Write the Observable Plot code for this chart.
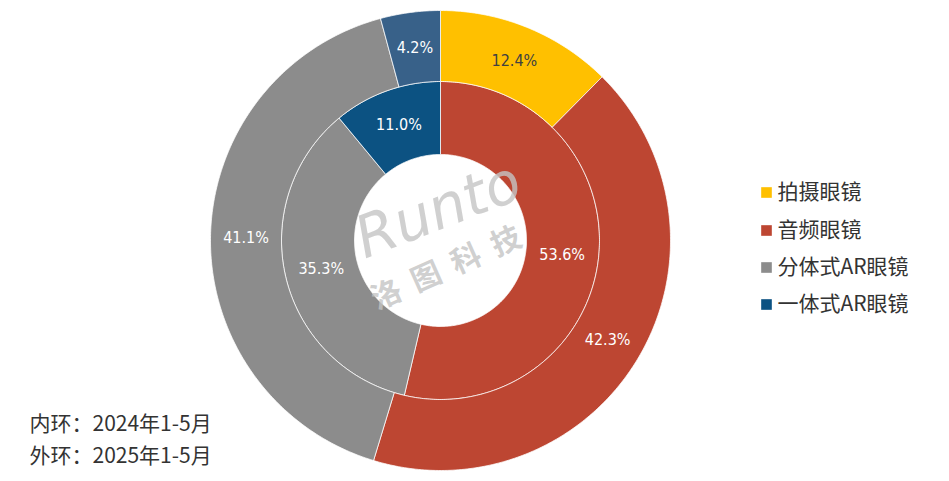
<!DOCTYPE html>
<html>
<head>
<meta charset="utf-8">
<script src="https://cdn.jsdelivr.net/npm/d3@7"></script>
<script src="https://cdn.jsdelivr.net/npm/@observablehq/plot@0.6"></script>
<style>
  html, body { margin: 0; padding: 0; background: #fff; }
  #chart { width: 949px; height: 481px; }
</style>
</head>
<body>
<div id="chart"></div>
<script>
// ---- data ----
const categories = ["拍摄眼镜", "音频眼镜", "分体式AR眼镜", "一体式AR眼镜"];
const inner2024 = [0, 53.6, 35.3, 11.0];   // 内环：2024年1-5月
const outer2025 = [12.4, 42.3, 41.1, 4.2]; // 外环：2025年1-5月
const ringNotes = ["内环：2024年1-5月", "外环：2025年1-5月"];

// ---- style ----
const innerColors = ["#FFC000", "#BD4632", "#8C8C8C", "#0C5282"];
const outerColors = ["#FFC000", "#BD4632", "#8C8C8C", "#386189"];
const legendColors = ["#FFC000", "#BD4632", "#8C8C8C", "#0C5282"];
const R = {hole: 86, mid: 159, outer: 230};

function ringSlices(values, colors, r0, r1, ring) {
  const total = d3.sum(values);
  let acc = 0;
  const polys = [], labels = [];
  values.forEach((v, i) => {
    const a0 = acc / total * 2 * Math.PI;
    acc += v;
    const a1 = acc / total * 2 * Math.PI;
    if (v <= 0) return;
    const key = ring + i;
    const n = Math.max(8, Math.ceil((a1 - a0) * 80));
    const pts = [];
    for (let k = 0; k <= n; k++) {
      const a = a0 + (a1 - a0) * k / n;
      pts.push([r1 * Math.sin(a), -r1 * Math.cos(a)]);
    }
    for (let k = n; k >= 0; k--) {
      const a = a0 + (a1 - a0) * k / n;
      pts.push([r0 * Math.sin(a), -r0 * Math.cos(a)]);
    }
    pts.push(pts[0]);
    pts.forEach(p => polys.push({key, x: p[0], y: p[1], col: colors[i]}));
    const am = (a0 + a1) / 2, rm = (r0 + r1) / 2;
    labels.push({
      x: rm * Math.sin(am), y: -rm * Math.cos(am),
      text: v.toFixed(1) + "%",
      col: i === 0 ? "#404040" : "#ffffff"
    });
  });
  return {polys, labels};
}

const inner = ringSlices(inner2024, innerColors, R.hole, R.mid, "in");
const outer = ringSlices(outer2025, outerColors, R.mid, R.outer, "out");
const polys = [...inner.polys, ...outer.polys];
const labels = [...inner.labels, ...outer.labels];

const legend = categories.map((c, i) => ({c, i, col: legendColors[i]}));
const legendY = [192, 230, 267, 304];
const notes = ringNotes.map((t, i) => ({t, i}));
const noteY = [184, 216];

const chart = Plot.plot({
  width: 949,
  height: 481,
  margin: 0,
  style: {background: "#fff"},
  x: {domain: [-440, 509], range: [0, 949], axis: null},
  y: {domain: [-240, 241], range: [0, 481], axis: null},
  color: {type: "identity"},
  marks: [
    Plot.line(polys, {
      x: "x", y: "y", z: "key", fill: "col",
      stroke: "#ffffff", strokeWidth: 1, strokeOpacity: 0.75, curve: "linear"
    }),
    // watermark
    Plot.text(["Runto"], {
      x: () => -2, y: () => -30, text: d => d, rotate: -21,
      fontSize: 58, fontStyle: "italic", fontFamily: "DejaVu Sans",
      fill: "#c4c4c4", fillOpacity: 0.8
    }),
    Plot.text(["洛  图  科  技"], {
      x: () => 6, y: () => 28, text: d => d, rotate: -24,
      fontSize: 30, fontWeight: "bold", fontFamily: "Noto Sans CJK SC",
      fill: "#c4c4c4", fillOpacity: 0.8
    }),
    Plot.text(labels, {
      x: "x", y: "y", text: "text", fill: "col",
      fontSize: 16, fontFamily: "DejaVu Sans Condensed, sans-serif"
    }),
    // legend
    Plot.dot(legend, {
      x: () => 326, y: d => legendY[d.i] - 240, symbol: "square", r: 6,
      fill: "col", stroke: null
    }),
    Plot.text(legend, {
      x: () => 337, y: d => legendY[d.i] - 240, text: "c", textAnchor: "start",
      fontSize: 21, fill: "#333333", fontFamily: "Noto Sans CJK SC"
    }),
    // ring notes
    Plot.text(notes, {
      x: () => -411, y: d => noteY[d.i], text: "t", textAnchor: "start",
      fontSize: 21, fill: "#333333", fontFamily: "Noto Sans CJK SC"
    })
  ]
});
document.getElementById("chart").appendChild(chart);
</script>
</body>
</html>
